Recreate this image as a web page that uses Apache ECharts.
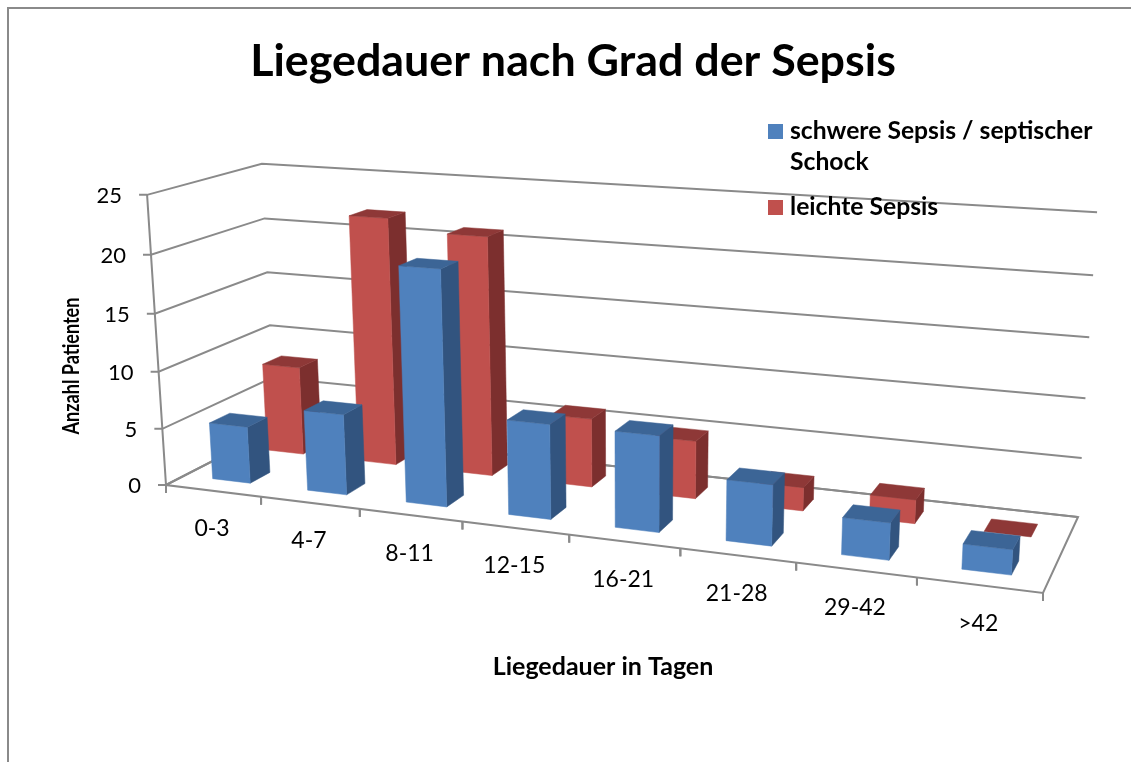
<!DOCTYPE html>
<html>
<head>
<meta charset="utf-8">
<title>Liegedauer nach Grad der Sepsis</title>
<style>
  html, body { margin: 0; padding: 0; background: #fff; }
  #chart { width: 1131px; height: 762px; }
</style>
<script src="https://cdn.jsdelivr.net/npm/echarts@6/dist/echarts.min.js"></script>
</head>
<body>
<div id="chart"></div>
<script>
const categories = ['0-3', '4-7', '8-11', '12-15', '16-21', '21-28', '29-42', '>42'];
const yTicks = [0, 5, 10, 15, 20, 25];
const schwer = [5, 7, 20, 8, 8, 5, 3, 2];
const leicht = [8, 22, 21, 6, 5, 2, 2, 0];

const FONT = 'Lato';
const GRID_COLOR = '#8a8a8a';

// Eckpunkte des 3D-Kastens: Boden und Oberkante
const floor = { a: [166, 485], b: [1043, 593], c: [1078, 517], d: [275, 429] };
const tops = [
  { u: 0, v: 0, p: [147, 195] },
  { u: 0, v: 1, p: [262, 163] },
  { u: 1, v: 1, p: [1097, 213] }
];

// Boden-Homographie (Einheitsquadrat -> Viereck)
function makeCamera () {
  const { a, b, c, d } = floor;
  const dx1 = b[0] - c[0], dx2 = d[0] - c[0], sx = a[0] - b[0] + c[0] - d[0];
  const dy1 = b[1] - c[1], dy2 = d[1] - c[1], sy = a[1] - b[1] + c[1] - d[1];
  const den = dx1 * dy2 - dx2 * dy1;
  const g = (sx * dy2 - dx2 * sy) / den;
  const h = (dx1 * sy - sx * dy1) / den;
  const m = [
    b[0] - a[0] + g * b[0], d[0] - a[0] + h * d[0], a[0],
    b[1] - a[1] + g * b[1], d[1] - a[1] + h * d[1], a[1],
    g, h, 1
  ];
  // Hoehen-Spalte per kleinster Quadrate aus den oberen Ecken
  const rows = tops.map(t => {
    const w = m[6] * t.u + m[7] * t.v + m[8];
    return {
      X: t.p[0], Y: t.p[1],
      rx: t.p[0] * w - (m[0] * t.u + m[1] * t.v + m[2]),
      ry: t.p[1] * w - (m[3] * t.u + m[4] * t.v + m[5])
    };
  });
  const mean = k => rows.reduce((s, o) => s + o[k], 0) / rows.length;
  const mX = mean('X'), mY = mean('Y'), mRx = mean('rx'), mRy = mean('ry');
  let num = 0, dn = 0;
  rows.forEach(o => {
    num += (o.X - mX) * (o.rx - mRx) + (o.Y - mY) * (o.ry - mRy);
    dn += (o.X - mX) * (o.X - mX) + (o.Y - mY) * (o.Y - mY);
  });
  const r = -num / dn;
  const p = mRx + r * mX;
  const q = mRy + r * mY;
  return function (u, v, t) {
    const w = m[6] * u + m[7] * v + m[8] + r * t;
    return [
      (m[0] * u + m[1] * v + m[2] + p * t) / w,
      (m[3] * u + m[4] * v + m[5] + q * t) / w
    ];
  };
}
const project = makeCamera();

function line (points) {
  return {
    type: 'polyline',
    shape: { points: points },
    style: { stroke: GRID_COLOR, lineWidth: 2, fill: null }
  };
}
function label (text, x, y, align, size) {
  return {
    type: 'text',
    style: {
      text: text, x: x, y: y, align: align, verticalAlign: 'middle',
      font: size + 'px ' + FONT, fill: '#000'
    }
  };
}

// Wertachse: Waende + Striche + Beschriftung
function renderLevel (params, api) {
  const cs = params.coordSys;
  const value = api.value(1);
  const t = 1 - (api.coord([0, value])[1] - cs.y) / cs.height;
  const front = project(0, 0, t);
  const back = project(0, 1, t);
  const right = project(1, 1, t);
  return {
    type: 'group',
    children: [
      line([[front[0] - 8, front[1]], front, back, right]),
      label(String(value), front[0] - 25, front[1] + 1, 'right', 22)
    ]
  };
}

// Kategorieachse: Striche unten + Beschriftung
function renderCategory (params, api) {
  const cs = params.coordSys;
  const i = api.value(0);
  const band = api.size([1, 0])[0] / cs.width;
  const mid = (api.coord([i, 0])[0] - cs.x) / cs.width;
  const left = project(mid - band / 2, 0, 0);
  const right = project(mid + band / 2, 0, 0);
  const c = project(mid, 0, 0);
  return {
    type: 'group',
    children: [
      line([left, [left[0], left[1] + 8]]),
      line([right, [right[0], right[1] + 8]]),
      label(categories[i], c[0] - 1, c[1] + 38, 'center', 23)
    ]
  };
}

function renderFrame () {
  return {
    type: 'group',
    children: [
      line([project(0, 0, 1), project(0, 0, 0), project(1, 0, 0), project(1, 1, 0), project(0, 1, 0), project(0, 0, 0)])
    ]
  };
}

function barRenderer (vFront, vBack, colors) {
  return function (params, api) {
    const cs = params.coordSys;
    const i = api.value(0);
    const band = api.size([1, 0])[0] / cs.width;
    const mid = (api.coord([i, 0])[0] - cs.x) / cs.width;
    const t = 1 - (api.coord([i, api.value(1)])[1] - cs.y) / cs.height;
    const u0 = mid - band * 0.2;
    const u1 = mid + band * 0.2;
    const fb0 = project(u0, vFront, 0), fb1 = project(u1, vFront, 0);
    const ft0 = project(u0, vFront, t), ft1 = project(u1, vFront, t);
    const bb1 = project(u1, vBack, 0);
    const bt0 = project(u0, vBack, t), bt1 = project(u1, vBack, t);
    const face = (pts, fill) => ({
      type: 'polygon',
      shape: { points: pts },
      style: { fill: fill, stroke: fill, lineWidth: 0.5 }
    });
    const children = [];
    if (t > 0) {
      children.push(face([ft1, bt1, bb1, fb1], colors.side));
      children.push(face([ft0, ft1, fb1, fb0], colors.front));
    }
    children.push(face([ft0, bt0, bt1, ft1], colors.top));
    return { type: 'group', children: children };
  };
}

const BLUE = { front: '#4F81BD', side: '#32547F', top: '#3C6596' };
const RED = { front: '#C0504D', side: '#7C2F2E', top: '#8E3837' };

const chart = echarts.init(document.getElementById('chart'), null, { renderer: 'canvas' });
chart.setOption({
  animation: false,
  backgroundColor: '#fff',
  title: {
    text: 'Liegedauer nach Grad der Sepsis',
    left: 568, top: 34, textAlign: 'center',
    textStyle: { fontFamily: FONT, fontWeight: 'bold', fontSize: 44.8, color: '#000' }
  },
  legend: {
    orient: 'vertical',
    left: 768, top: 85,
    itemWidth: 15, itemHeight: 15, itemGap: 14,
    padding: 0,
    icon: 'rect',
    data: ['schwere Sepsis / septischer Schock', 'leichte Sepsis'],
    selectedMode: false,
    formatter: function (name) {
      return name === 'leichte Sepsis' ? name : '\nschwere Sepsis / septischer\nSchock';
    },
    textStyle: { fontFamily: FONT, fontWeight: 'bold', fontSize: 24.7, lineHeight: 31, color: '#000', padding: [0, 0, 0, 2] }
  },
  grid: { left: 0, top: 0, width: 800, height: 800, containLabel: false },
  xAxis: { type: 'category', data: categories, show: false },
  yAxis: { type: 'value', min: 0, max: 25, interval: 5, show: false },
  graphic: [
    {
      type: 'polyline', silent: true,
      shape: { points: [[8, 762], [8, 8], [1131, 8]] },
      style: { stroke: GRID_COLOR, lineWidth: 2, fill: null }
    },
    {
      type: 'text', silent: true,
      x: 72, y: 366, rotation: Math.PI / 2, scaleX: 0.82,
      style: {
        text: 'Anzahl Patienten', align: 'center', verticalAlign: 'middle',
        font: 'bold 22px ' + FONT, fill: '#000'
      }
    },
    {
      type: 'text', silent: true,
      x: 603, y: 667,
      style: {
        text: 'Liegedauer in Tagen', align: 'center', verticalAlign: 'middle',
        font: 'bold 25px ' + FONT, fill: '#000'
      }
    }
  ],
  series: [
    { type: 'custom', name: 'rahmen', silent: true, clip: false, data: [[0, 0]], renderItem: renderFrame },
    { type: 'custom', name: 'werte', silent: true, clip: false, data: yTicks.map(v => [0, v]), renderItem: renderLevel },
    { type: 'custom', name: 'kategorien', silent: true, clip: false, data: categories.map((c, i) => [i, 0]), renderItem: renderCategory },
    {
      type: 'custom', name: 'leichte Sepsis', silent: true, clip: false,
      itemStyle: { color: RED.front },
      data: leicht.map((v, i) => [i, v]),
      renderItem: barRenderer(0.66, 0.84, RED)
    },
    {
      type: 'custom', name: 'schwere Sepsis / septischer Schock', silent: true, clip: false,
      itemStyle: { color: BLUE.front },
      data: schwer.map((v, i) => [i, v]),
      renderItem: barRenderer(0.16, 0.34, BLUE)
    }
  ]
});
</script>
</body>
</html>
